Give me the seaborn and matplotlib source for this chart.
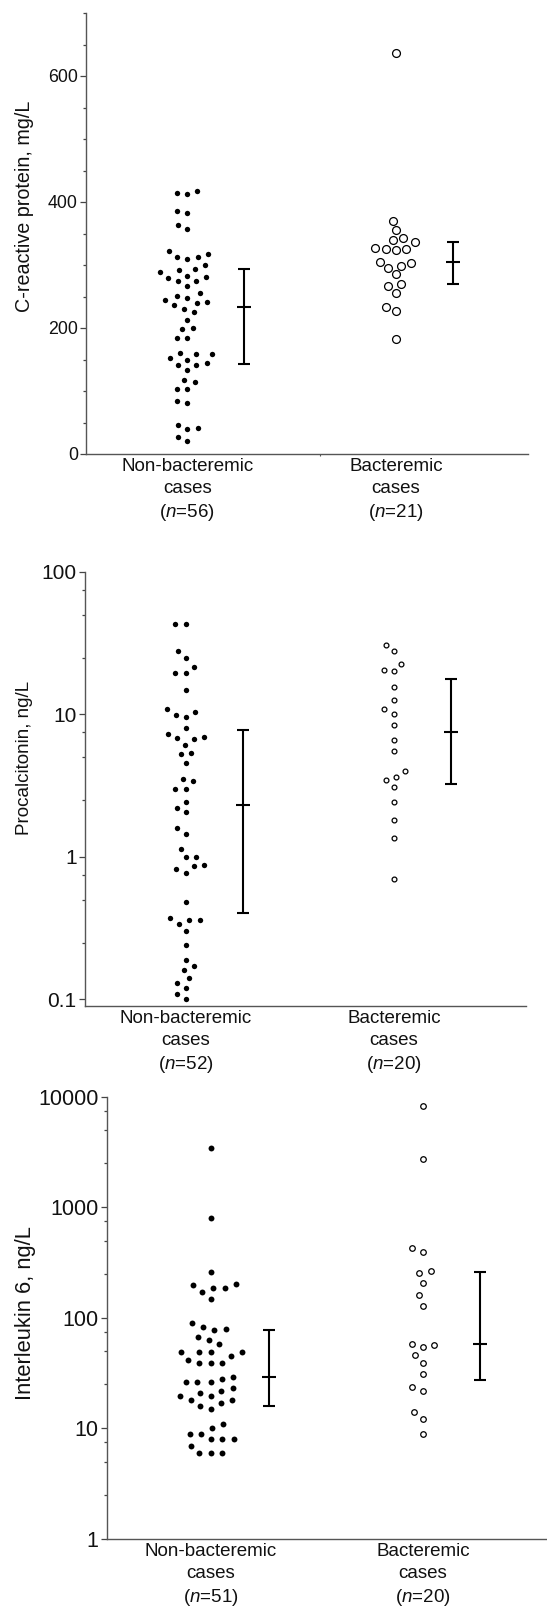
import numpy as np
import pandas as pd
import matplotlib
matplotlib.use('Agg')
import matplotlib.pyplot as plt
import seaborn as sns
from matplotlib.ticker import MultipleLocator, LogLocator, NullFormatter

sns.set_style('ticks')
plt.rcParams['font.family'] = ['Liberation Sans', 'DejaVu Sans']
plt.rcParams['mathtext.fontset'] = 'custom'
plt.rcParams['mathtext.rm'] = 'Liberation Sans'
plt.rcParams['mathtext.it'] = 'Liberation Sans:italic'

groups = ['Non-bacteremic', 'Bacteremic']

# C-reactive protein, mg/L
crp_non = [418, 413, 415, 382, 386, 357, 363, 322, 312, 310, 312, 317, 289, 293, 300, 292,
           274, 281, 283, 280, 274, 266, 255, 247, 251, 244, 241, 240, 236, 230, 225, 213,
           198, 200, 184, 184, 161, 158, 158, 150, 152, 142, 141, 144, 134, 114, 118, 103,
           103, 81, 84, 46, 39, 42, 21, 27]
crp_bac = [637, 370, 355, 336, 339, 343, 326, 324, 326, 327, 303, 296, 299, 305, 285,
           267, 270, 256, 227, 233, 182]
crp_q1 = [143, 270]
crp_med = [234, 305]
crp_q3 = [293, 336]
crp_n = [56, 21]

# Procalcitonin, ng/L
pct_non = [42.9, 42.9, 27.6, 25.0, 21.6, 19.5, 19.5, 14.8, 10.8, 10.4, 9.6, 9.95, 8.06,
           6.97, 7.27, 6.67, 6.81, 6.09, 5.26, 5.35, 4.58, 3.51, 3.40, 3.01, 3.01, 2.41,
           2.21, 2.05, 1.59, 1.45, 1.14, 0.99, 1.00, 0.87, 0.855, 0.82, 0.77, 0.48, 0.34,
           0.36, 0.36, 0.37, 0.30, 0.239, 0.19, 0.170, 0.161, 0.140, 0.130, 0.120, 0.109, 0.10]
pct_bac = [30.5, 27.7, 22.4, 20.0, 20.4, 15.4, 12.5, 10.8, 10.1, 8.37, 6.6, 5.5, 3.63,
           3.98, 3.44, 3.08, 2.42, 1.81, 1.35, 0.70]
pct_q1 = [0.40, 3.26]
pct_med = [2.32, 7.5]
pct_q3 = [7.7, 17.8]
pct_n = [52, 20]

# Interleukin 6, ng/L
il6_non = [3451, 794, 259, 202, 186, 199, 185, 170, 148, 89.8, 79.7, 82.6, 77.6, 67.5,
           63.4, 57.6, 49.1, 49.4, 49.1, 49.4, 41.5, 44.9, 38.8, 38.8, 38.8, 29.0, 27.8,
           26.1, 26.1, 26.1, 23.0, 20.9, 21.9, 19.8, 19.8, 18.1, 17.9, 16.9, 15.8, 14.9,
           10.96, 10.0, 8.96, 8.96, 7.97, 7.97, 7.97, 6.98, 5.96, 5.96, 5.96]
il6_bac = [8280, 2710, 430, 396, 256, 265, 206, 160, 129, 56.8, 58.0, 54.5, 45.8, 39.0,
           31.0, 23.8, 21.9, 14.1, 12.1, 8.96]
il6_q1 = [15.8, 27.4]
il6_med = [29.0, 57.6]
il6_q3 = [77.6, 258]
il6_n = [51, 20]

crp_ticks = [0, 200, 400, 600]
crp_ticklabels = ['0', '200', '400', '600']
pct_ticks = [0.1, 1, 10, 100]
pct_ticklabels = ['0.1', '1', '10', '100']
il6_ticks = [1, 10, 100, 1000, 10000]
il6_ticklabels = ['1', '10', '100', '1000', '10000']

W, H = 547, 1607
fig = plt.figure(figsize=(W / 100, H / 100), dpi=100)
swarms = []  # (collection, final marker area)


def px_axes(left, right, top, bottom):
    return fig.add_axes([left / W, 1 - bottom / H, (right - left) / W, (bottom - top) / H])


def draw_panel(ax, non, bac, q1, med, q3, n, ylabel, log, layout, sizes, tick_fs, lab_fs):
    if log:
        ax.set_yscale('log')
    df = pd.DataFrame({'group': [groups[0]] * len(non) + [groups[1]] * len(bac),
                       'value': non + bac})
    k = len(ax.collections)
    sns.swarmplot(data=df[df.group == groups[0]], x='group', y='value', order=groups,
                  color='black', size=layout, linewidth=0, ax=ax)
    swarms.extend((c, sizes[0]) for c in ax.collections[k:])
    k = len(ax.collections)
    sns.swarmplot(data=df[df.group == groups[1]], x='group', y='value', order=groups,
                  color='white', edgecolor='black', size=layout - 0.9, linewidth=0.9, ax=ax)
    swarms.extend((c, sizes[1]) for c in ax.collections[k:])
    # median and interquartile range
    for i in range(2):
        ax.errorbar(i + 0.272, med[i], yerr=[[med[i] - q1[i]], [q3[i] - med[i]]],
                    fmt='_', color='black', ms=9.5, mew=1.5, elinewidth=1.5,
                    capsize=4.6, capthick=1.5)
    ax.set_xticks([0, 1])
    ax.set_xticklabels([g + '\ncases\n($\\mathit{n}$=%d)' % k for g, k in zip(groups, n)],
                       fontsize=13.5, color='#111111', linespacing=1.35)
    ax.set_xlabel('')
    ax.set_ylabel(ylabel, fontsize=lab_fs, color='#111111')
    ax.yaxis.label.set_verticalalignment('center')
    ax.tick_params(axis='x', length=0, pad=3)
    ax.tick_params(axis='y', which='major', length=4.2, width=0.9, color='#444444',
                   labelsize=tick_fs, labelcolor='#111111', pad=1.5)
    ax.tick_params(axis='y', which='minor', length=2.2, width=0.9, color='#444444')
    sns.despine(ax=ax)
    for side in ['left', 'bottom']:
        ax.spines[side].set_color('#555555')
        ax.spines[side].set_linewidth(1.0)


ax1 = px_axes(85.8, 528, 13, 454)
draw_panel(ax1, crp_non, crp_bac, crp_q1, crp_med, crp_q3, crp_n,
           'C-reactive protein, mg/L', False, 7.2, (15, 32), 12.8, 14.2)
ax1.set_ylim(0, 700)
ax1.set_yticks(crp_ticks)
ax1.set_yticklabels(crp_ticklabels)
ax1.yaxis.set_minor_locator(MultipleLocator(50))
ax1.set_xlim(-0.486, 1.632)
ax1.set_xticks([0.636], minor=True)
ax1.tick_params(axis='x', which='minor', length=1.5, width=0.8, color='#555555')
ax1.yaxis.set_label_coords(-0.1375, 0.562)

ax2 = px_axes(84.5, 526, 571.7, 1006)
draw_panel(ax2, pct_non, pct_bac, pct_q1, pct_med, pct_q3, pct_n,
           'Procalcitonin, ng/L', True, 7.2, (15, 12), 15, 13.5)
ax2.set_ylim(0.0897, 100)
ax2.set_yticks(pct_ticks)
ax2.set_yticklabels(pct_ticklabels)
ax2.yaxis.set_minor_locator(LogLocator(base=10, subs=(2.5, 5, 7.5)))
ax2.yaxis.set_minor_formatter(NullFormatter())
ax2.set_xlim(-0.488, 1.635)
ax2.yaxis.set_label_coords(-0.135, 0.571)

ax3 = px_axes(106.5, 547, 1096.7, 1539)
draw_panel(ax3, il6_non, il6_bac, il6_q1, il6_med, il6_q3, il6_n,
           'Interleukin 6, ng/L', True, 7.9, (18, 16), 15.5, 15.8)
ax3.set_ylim(1, 10000)
ax3.set_yticks(il6_ticks)
ax3.set_yticklabels(il6_ticklabels)
ax3.yaxis.set_minor_locator(LogLocator(base=10, subs=(2.5, 5, 7.5)))
ax3.yaxis.set_minor_formatter(NullFormatter())
ax3.set_xlim(-0.493, 1.586)
ax3.yaxis.set_label_coords(-0.185, 0.511)

# lay out the swarms once with a wide spacing, then shrink the markers
fig.canvas.draw()
for coll, s in swarms:
    coll.__dict__.pop('draw', None)
    coll.set_sizes([s])

fig.savefig('out.png', dpi=100)
